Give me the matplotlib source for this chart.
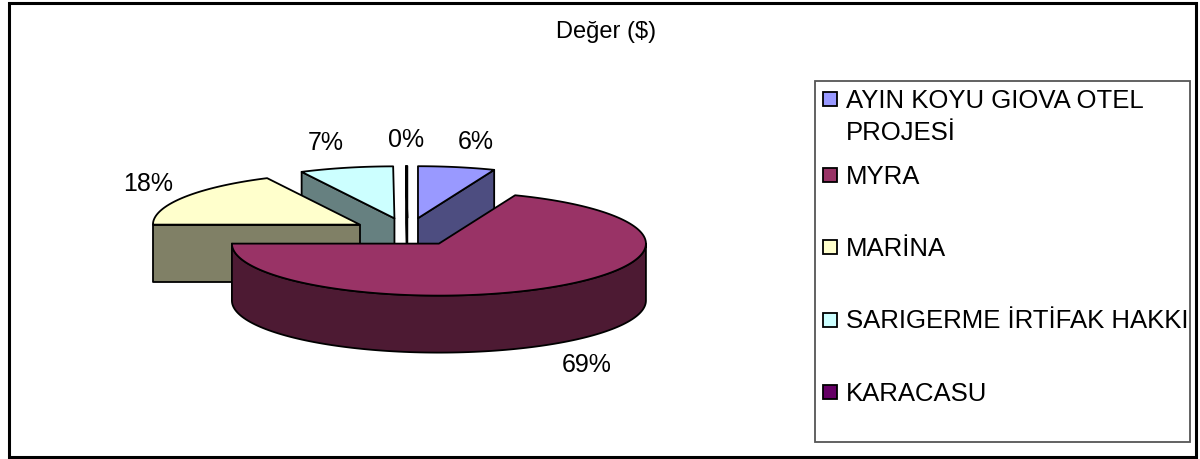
import numpy as np
import matplotlib.pyplot as plt
from matplotlib.patches import Polygon, Rectangle
from matplotlib.colors import to_rgb

plt.rcParams['font.family'] = ['Liberation Sans', 'DejaVu Sans']

# data
title = 'Değer ($)'
names = ['AYIN KOYU GIOVA OTEL\nPROJESİ', 'MYRA', 'MARİNA',
         'SARIGERME İRTİFAK HAKKI', 'KARACASU']
shares = [6.0, 69.0, 17.6, 7.3, 0.1]
top_colors = ['#9999FF', '#993366', '#FFFFCC', '#CCFFFF', '#660066']

# pie geometry, in pixels (axes is laid out 1:1 with the image)
CX0, CY0 = 407.5, 232.0
RX, RY = 207.0, 52.0
DEPTH = 57.0
EXPLODE = 0.27
FS = 18


def rim(cx, cy, phis, dz=0.0):
    rad = np.radians(phis)
    return np.column_stack([cx + RX * np.sin(rad), cy - RY * np.cos(rad) + dz])


def darker(c):
    return tuple(np.array(to_rgb(c)) * 0.5)


fig = plt.figure(figsize=(12, 4.59), dpi=100)
ax = fig.add_axes([0, 0, 1, 1])
ax.set_xlim(0, 1200)
ax.set_ylim(459, 0)
ax.axis('off')

ends = np.cumsum(shares) * 3.6
starts = ends - np.array(shares) * 3.6
mids = (starts + ends) / 2

slices = []
for i, (a0, a1, m) in enumerate(zip(starts, ends, mids)):
    r = np.radians(m)
    cx = CX0 + EXPLODE * RX * np.sin(r)
    cy = CY0 - EXPLODE * RY * np.cos(r)
    slices.append((cy, i, cx, a0, a1))

# back slices first
for cy, i, cx, a0, a1 in sorted(slices):
    top = top_colors[i]
    side = darker(top)
    kw = dict(edgecolor='black', linewidth=1.3, joinstyle='round')
    apex = np.array([[cx, cy]])
    # cut faces
    for phi, visible in ((a0, np.sin(np.radians(a0)) < -1e-6),
                         (a1, np.sin(np.radians(a1)) > 1e-6)):
        if visible:
            p = rim(cx, cy, [phi])[0]
            face = [[cx, cy], p, [p[0], p[1] + DEPTH], [cx, cy + DEPTH]]
            ax.add_patch(Polygon(face, closed=True, facecolor=side, **kw))
    # outer wall, front half only
    lo, hi = max(a0, 90), min(a1, 270)
    if hi > lo:
        phis = np.linspace(lo, hi, 120)
        wall = np.vstack([rim(cx, cy, phis), rim(cx, cy, phis[::-1], DEPTH)])
        ax.add_patch(Polygon(wall, closed=True, facecolor=side, **kw))
    # top face
    phis = np.linspace(a0, a1, max(2, int((a1 - a0) * 2)))
    face = np.vstack([apex, rim(cx, cy, phis)])
    ax.add_patch(Polygon(face, closed=True, facecolor=top, **kw))

# percentage labels, set just outside the rim
em = FS * 100 / 72
for s, m in zip(shares, mids):
    r = np.radians(m)
    sn, cs = np.sin(r), np.cos(r)
    label = f'{round(s):.0f}%'
    w = (0.556 * (len(label) - 1) + 0.889) * em
    k = 1 + EXPLODE
    x = CX0 + k * RX * sn + np.tanh(8 * sn) * w / 2 + 12 * sn
    y = CY0 - k * RY * cs - 26 * cs
    if cs < 0:
        y += DEPTH
    ax.text(x, y, label, fontsize=FS, ha='center', va='center')

ax.text(606, 32, title, fontsize=17, ha='center', va='center')

# legend
ax.add_patch(Rectangle((815, 81), 375, 361, fill=False, edgecolor='#555555', linewidth=1.3))
for i, (name, c) in enumerate(zip(names, top_colors)):
    y = 102 + 72.5 * i if i else 99
    ax.add_patch(Rectangle((823, y - 7), 14, 14, facecolor=c, edgecolor='black', linewidth=1.3))
    for j, line in enumerate(name.split('\n')):
        ax.text(846, y + 9 + 32 * j, line, fontsize=18.5, ha='left', va='baseline')

# chart border
ax.add_patch(Rectangle((9, 3), 1187, 454, fill=False, edgecolor='black', linewidth=2.2))

fig.savefig('out.png', dpi=100)
